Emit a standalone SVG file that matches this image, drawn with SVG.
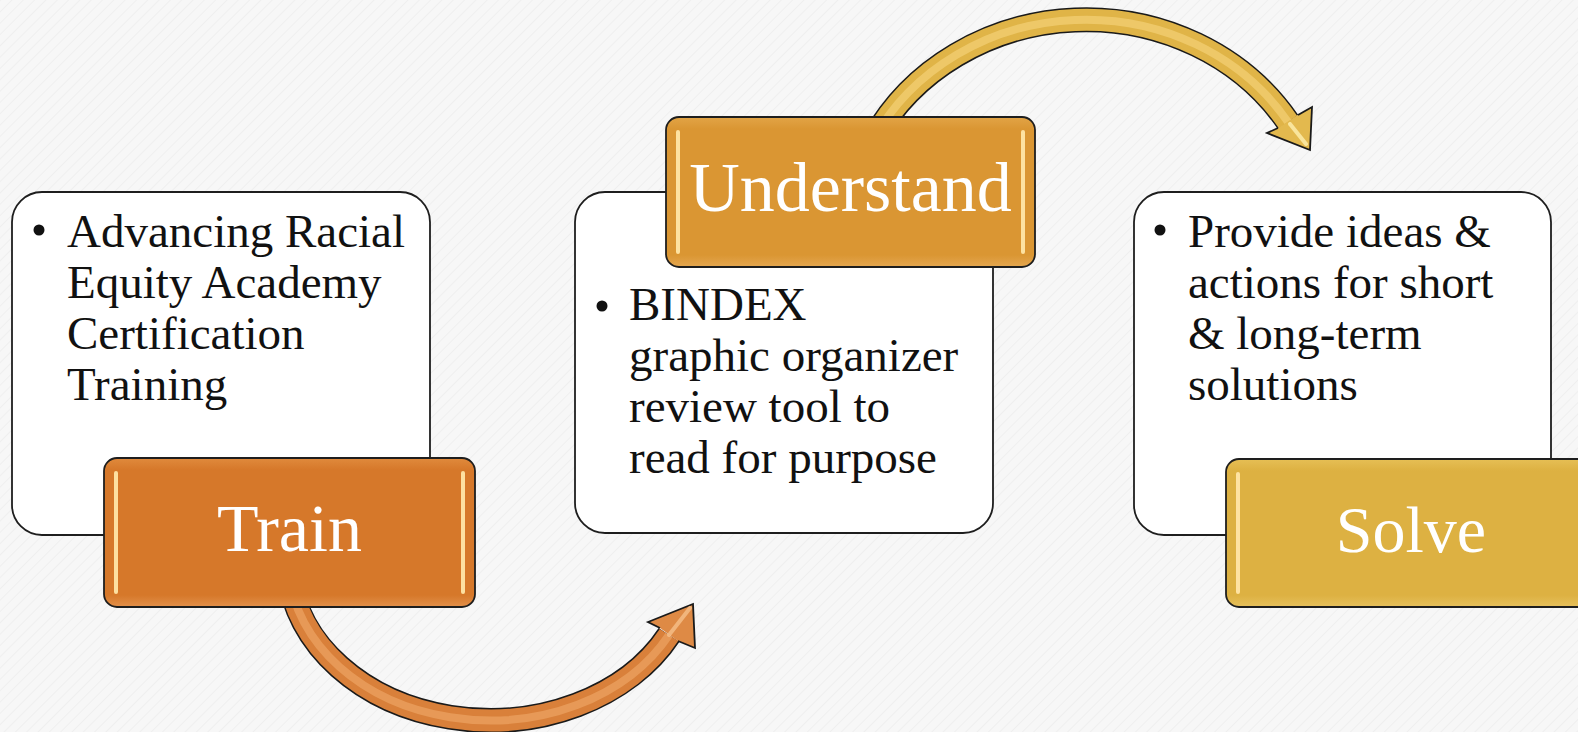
<svg xmlns="http://www.w3.org/2000/svg" width="1578" height="732" viewBox="0 0 1578 732">
  <defs>
    <pattern id="bgpat" width="8" height="8" patternUnits="userSpaceOnUse" patternTransform="rotate(45)">
      <rect width="8" height="8" fill="#f7f7f7"/>
      <line x1="0" y1="0" x2="0" y2="8" stroke="#efefef" stroke-width="2"/>
    </pattern>
    <linearGradient id="gTrain" x1="0" y1="0" x2="0" y2="1">
      <stop offset="0" stop-color="#e08a3c"/>
      <stop offset="0.08" stop-color="#d6782a"/>
      <stop offset="0.92" stop-color="#d6782a"/>
      <stop offset="1" stop-color="#e2904a"/>
    </linearGradient>
    <linearGradient id="gUnder" x1="0" y1="0" x2="0" y2="1">
      <stop offset="0" stop-color="#e2a446"/>
      <stop offset="0.08" stop-color="#da9633"/>
      <stop offset="0.92" stop-color="#da9633"/>
      <stop offset="1" stop-color="#e4a750"/>
    </linearGradient>
    <linearGradient id="gSolve" x1="0" y1="0" x2="0" y2="1">
      <stop offset="0" stop-color="#e6bf55"/>
      <stop offset="0.08" stop-color="#ddb142"/>
      <stop offset="0.92" stop-color="#ddb142"/>
      <stop offset="1" stop-color="#e6c05c"/>
    </linearGradient>
    <style>
      .card { fill: #ffffff; stroke: #1e1e1e; stroke-width: 1.8; }
      .label { stroke: #1e1e1e; stroke-width: 1.8; }
      .shine { stroke: #ffe6a8; stroke-width: 4; stroke-linecap: round; fill: none; opacity: 0.95; }
      .body { font-family: "Liberation Serif", "Times New Roman", serif; font-size: 47px; fill: #111111; }
      .title { font-family: "Liberation Serif", "Times New Roman", serif; fill: #ffffff; text-anchor: middle; }
      .outline { fill: none; stroke: #1a1a1a; stroke-width: 25; }
      .headline { stroke: #1a1a1a; stroke-width: 1.8; stroke-linejoin: miter; }
    </style>
  </defs>

  <rect x="0" y="0" width="1578" height="732" fill="url(#bgpat)"/>

  <g id="connectors">
    <g id="arrow-train-understand">
      <path class="outline" d="M289 574 A202 160 0 0 0 669 635"/>
      <path d="M289 574 A202 160 0 0 0 669 635" fill="none" stroke="#d9803a" stroke-width="22"/>
      <path d="M289 574 A202 160 0 0 0 669 635" fill="none" stroke="#f0aa6a" stroke-width="8" opacity="0.6"/>
      <path class="headline" d="M660 628 L648 622 L693 604 L695 648 L678 641" fill="#de8a45"/>
      <path d="M669 635 L690 608" stroke="#f6c08a" stroke-width="4" stroke-linecap="round" opacity="0.8"/>
    </g>
    <g id="arrow-understand-solve">
      <path class="outline" d="M873 140 A239 220 0 0 1 1288 122"/>
      <path d="M873 140 A239 220 0 0 1 1288 122" fill="none" stroke="#e0b447" stroke-width="22"/>
      <path d="M873 140 A239 220 0 0 1 1288 122" fill="none" stroke="#f6d67e" stroke-width="8" opacity="0.6"/>
      <path class="headline" d="M1278 128 L1267 133 L1310 150 L1312 107 L1298 115" fill="#e3b94e"/>
      <path d="M1290 124 L1306 144" stroke="#fff0b0" stroke-width="4" stroke-linecap="round" opacity="0.8"/>
    </g>
  </g>

  <g id="node-train">
    <rect class="card" x="12" y="192" width="418" height="343" rx="30"/>
    <circle cx="39" cy="230" r="5.5" fill="#111"/>
    <text class="body">
      <tspan x="67" y="247">Advancing Racial</tspan>
      <tspan x="67" y="298">Equity Academy</tspan>
      <tspan x="67" y="349">Certification</tspan>
      <tspan x="67" y="400">Training</tspan>
    </text>
    <rect class="label" x="104" y="458" width="371" height="149" rx="13" fill="url(#gTrain)"/>
    <line class="shine" x1="116" y1="473" x2="116" y2="592"/>
    <line class="shine" x1="463" y1="473" x2="463" y2="592"/>
    <text class="title" x="289.5" y="551" font-size="68">Train</text>
  </g>

  <g id="node-understand">
    <rect class="card" x="575" y="192" width="418" height="341" rx="30"/>
    <circle cx="602" cy="306" r="5.5" fill="#111"/>
    <text class="body">
      <tspan x="629" y="320">BINDEX</tspan>
      <tspan x="629" y="371">graphic organizer</tspan>
      <tspan x="629" y="422">review tool to</tspan>
      <tspan x="629" y="473">read for purpose</tspan>
    </text>
    <rect class="label" x="666" y="117" width="369" height="150" rx="13" fill="url(#gUnder)"/>
    <line class="shine" x1="678" y1="132" x2="678" y2="252"/>
    <line class="shine" x1="1023" y1="132" x2="1023" y2="252"/>
    <text class="title" x="850.5" y="211" font-size="70">Understand</text>
  </g>

  <g id="node-solve">
    <rect class="card" x="1134" y="192" width="417" height="343" rx="30"/>
    <circle cx="1160" cy="230" r="5.5" fill="#111"/>
    <text class="body">
      <tspan x="1188" y="247">Provide ideas &amp;</tspan>
      <tspan x="1188" y="298">actions for short</tspan>
      <tspan x="1188" y="349">&amp; long-term</tspan>
      <tspan x="1188" y="400">solutions</tspan>
    </text>
    <rect class="label" x="1226" y="459" width="371" height="148" rx="13" fill="url(#gSolve)"/>
    <line class="shine" x1="1238" y1="474" x2="1238" y2="592"/>
    <text class="title" x="1411" y="552" font-size="66">Solve</text>
  </g>
</svg>
